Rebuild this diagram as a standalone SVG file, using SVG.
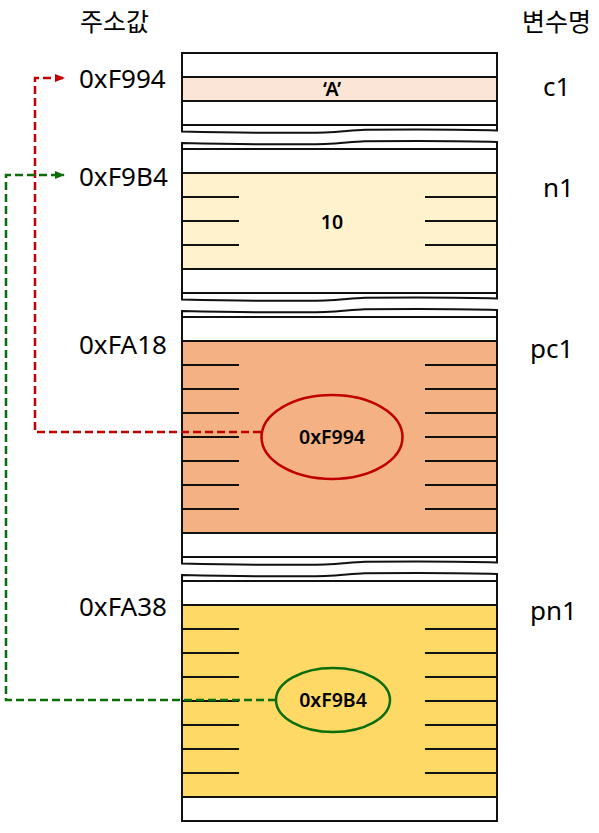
<svg xmlns="http://www.w3.org/2000/svg" width="599" height="833" viewBox="0 0 599 833">
<style>
.lbl{font-family:"Noto Sans","Noto Sans CJK KR",sans-serif;font-size:26px;fill:#000}
.kr{font-family:"Noto Sans CJK KR","Noto Sans",sans-serif;font-size:25px;fill:#000}
.val{font-family:"Noto Sans","Noto Sans CJK KR",sans-serif;font-size:19.5px;font-weight:600;fill:#000;text-anchor:middle}
.box{fill:#fff;stroke:#111;stroke-width:2}
.ln{stroke:#111;stroke-width:2;fill:none}
.tk{stroke:#111;stroke-width:2}
.red{stroke:#C00000;stroke-width:2.5;fill:none;stroke-dasharray:8 4}
.grn{stroke:#0B6E0B;stroke-width:2.5;fill:none;stroke-dasharray:8 4}
</style>
<defs>
<marker id="ar" markerWidth="10" markerHeight="8" refX="9" refY="4" orient="auto" markerUnits="userSpaceOnUse"><path d="M0,0 L10,4 L0,8 Z" fill="#C00000"/></marker>
<marker id="ag" markerWidth="10" markerHeight="8" refX="9" refY="4" orient="auto" markerUnits="userSpaceOnUse"><path d="M0,0 L10,4 L0,8 Z" fill="#0B6E0B"/></marker>
</defs>

<text class="kr" x="80" y="31">주소값</text>
<text class="kr" x="522" y="31">변수명</text>

<g id="c1">
<path class="box" d="M182,53 L497,53 L497,130.5 C470,129.5 420,129.3 365,129.7 C350,130 342,132.3 325,132.5 C300,133 250,133 182,131.5 Z"/>
<rect x="182" y="77" width="315" height="24" fill="#FBE5D6" stroke="#111" stroke-width="2"/>
<line class="ln" x1="182" y1="125" x2="497" y2="125"/>
<text class="val" x="332" y="96">‘A’</text>
<text class="lbl" x="79" y="88">0xF994</text>
<text class="lbl" x="543" y="96">c1</text>
</g>

<g id="n1">
<path class="box" d="M182,143 C250,144.5 300,144.5 325,144 C342,143.8 350,141.5 365,141.2 C420,140.8 470,141 497,142 L497,298.5 C470,297.5 420,297.3 365,297.7 C350,298 342,300.3 325,300.5 C300,301 250,301 182,299.5 Z"/>
<line class="ln" x1="182" y1="149" x2="497" y2="149"/>
<rect x="182" y="173" width="315" height="96" fill="#FFF2CC" stroke="#111" stroke-width="2"/>
<line class="ln" x1="182" y1="293" x2="497" y2="293"/>
<g class="tk">
<line x1="182" y1="197" x2="239" y2="197"/><line x1="182" y1="221" x2="239" y2="221"/><line x1="182" y1="245" x2="239" y2="245"/>
<line x1="425" y1="197" x2="497" y2="197"/><line x1="425" y1="221" x2="497" y2="221"/><line x1="425" y1="245" x2="497" y2="245"/>
</g>
<text class="val" x="332" y="229">10</text>
<text class="lbl" x="79" y="186">0xF9B4</text>
<text class="lbl" x="543" y="197">n1</text>
</g>

<g id="pc1">
<path class="box" d="M182,311 C250,312.5 300,312.5 325,312 C342,311.8 350,309.5 365,309.2 C420,308.8 470,309 497,310 L497,562.5 C470,561.5 420,561.3 365,561.7 C350,562 342,564.3 325,564.5 C300,565 250,565 182,563.5 Z"/>
<line class="ln" x1="182" y1="317" x2="497" y2="317"/>
<rect x="182" y="341" width="315" height="192" fill="#F4B183" stroke="#111" stroke-width="2"/>
<line class="ln" x1="182" y1="557" x2="497" y2="557"/>
<g class="tk">
<line x1="182" y1="365" x2="239" y2="365"/><line x1="182" y1="389" x2="239" y2="389"/><line x1="182" y1="413" x2="239" y2="413"/><line x1="182" y1="437" x2="239" y2="437"/><line x1="182" y1="461" x2="239" y2="461"/><line x1="182" y1="485" x2="239" y2="485"/><line x1="182" y1="509" x2="239" y2="509"/>
<line x1="425" y1="365" x2="497" y2="365"/><line x1="425" y1="389" x2="497" y2="389"/><line x1="425" y1="413" x2="497" y2="413"/><line x1="425" y1="437" x2="497" y2="437"/><line x1="425" y1="461" x2="497" y2="461"/><line x1="425" y1="485" x2="497" y2="485"/><line x1="425" y1="509" x2="497" y2="509"/>
</g>
<ellipse cx="332" cy="437" rx="70.5" ry="42" fill="#F4B183" stroke="#C00000" stroke-width="2.5"/>
<text class="val" x="332" y="444">0xF994</text>
<text class="lbl" x="79" y="354">0xFA18</text>
<text class="lbl" x="530" y="358">pc1</text>
</g>

<g id="pn1">
<path class="box" d="M182,575 C250,576.5 300,576.5 325,576 C342,575.8 350,573.5 365,573.2 C420,572.8 470,573 497,574 L497,821 L182,821 Z"/>
<line class="ln" x1="182" y1="581" x2="497" y2="581"/>
<rect x="182" y="605" width="315" height="192" fill="#FFD966" stroke="#111" stroke-width="2"/>
<g class="tk">
<line x1="182" y1="629" x2="239" y2="629"/><line x1="182" y1="653" x2="239" y2="653"/><line x1="182" y1="677" x2="239" y2="677"/><line x1="182" y1="701" x2="239" y2="701"/><line x1="182" y1="725" x2="239" y2="725"/><line x1="182" y1="749" x2="239" y2="749"/><line x1="182" y1="773" x2="239" y2="773"/>
<line x1="425" y1="629" x2="497" y2="629"/><line x1="425" y1="653" x2="497" y2="653"/><line x1="425" y1="677" x2="497" y2="677"/><line x1="425" y1="701" x2="497" y2="701"/><line x1="425" y1="725" x2="497" y2="725"/><line x1="425" y1="749" x2="497" y2="749"/><line x1="425" y1="773" x2="497" y2="773"/>
</g>
<ellipse cx="333" cy="700" rx="57" ry="32" fill="#FFD966" stroke="#0B6E0B" stroke-width="2.5"/>
<text class="val" x="333" y="707">0xF9B4</text>
<text class="lbl" x="79" y="616">0xFA38</text>
<text class="lbl" x="530" y="620">pn1</text>
</g>

<g id="connectors">
<path class="red" d="M261,432 L35,432 L35,78 L64,78" marker-end="url(#ar)"/>
<path class="grn" d="M276,700 L6,700 L6,175 L64,175" marker-end="url(#ag)"/>
</g>
</svg>
